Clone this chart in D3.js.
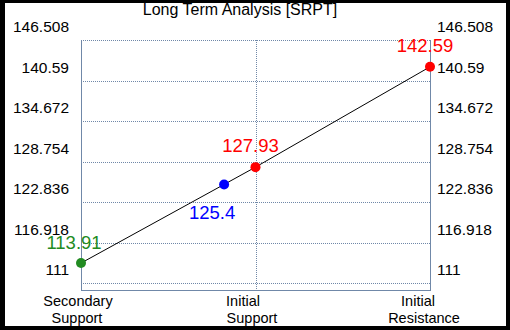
<!DOCTYPE html>
<html><head><meta charset="utf-8">
<script src="https://cdn.jsdelivr.net/npm/d3@7"></script>
<style>body{margin:0;background:#fff}svg{display:block;font-family:"Liberation Sans",Arial,sans-serif}</style>
</head><body><svg id="c" width="510" height="330"></svg>
<script>
const title = "Long Term Analysis [SRPT]";
const categories = [["Secondary","Support"],["Initial","Support"],["Initial","Resistance"]];
const yTicks = [111, 116.918, 122.836, 128.754, 134.672, 140.59, 146.508];
const pointPos = [0, 0.82, 1, 2];
const pointValues = [113.91, 125.4, 127.93, 142.59];
const pointColors = ["#228b22", "#0000ff", "#ff0000", "#ff0000"];

const svg = d3.select("#c");
const axisColor = "#7088a8";
svg.append("rect").attr("width",510).attr("height",330).attr("fill","#000");
svg.append("rect").attr("x",5).attr("y",3).attr("width",501).attr("height",323).attr("fill","#fff");

const x = d3.scaleLinear().domain([0,2]).range([81,430]);
const y = d3.scaleLinear().domain([111,146.508]).range([283,40]);
const plotBottom = 290;

// horizontal gridlines
svg.append("g").selectAll("line").data(yTicks).join("line")
  .attr("x1",x(0)).attr("x2",x(2)).attr("y1",d=>Math.round(y(d))+0.5).attr("y2",d=>Math.round(y(d))+0.5)
  .attr("stroke",axisColor).attr("stroke-dasharray","1,1");
// vertical gridline
svg.append("line").attr("x1",Math.round(x(1))+0.5).attr("x2",Math.round(x(1))+0.5).attr("y1",40).attr("y2",plotBottom)
  .attr("stroke",axisColor).attr("stroke-dasharray","1,1");
// axes
svg.append("line").attr("x1",x(0)+0.5).attr("x2",x(0)+0.5).attr("y1",40).attr("y2",plotBottom+0.5).attr("stroke",axisColor);
svg.append("line").attr("x1",x(2)+0.5).attr("x2",x(2)+0.5).attr("y1",40).attr("y2",plotBottom+0.5).attr("stroke",axisColor);
svg.append("line").attr("x1",x(0)).attr("x2",x(2)+1).attr("y1",plotBottom+0.5).attr("y2",plotBottom+0.5).attr("stroke",axisColor);

// tick labels
svg.append("g").selectAll("text").data(yTicks).join("text")
  .attr("x",69).attr("y",d=>y(d)-8).attr("text-anchor","end").attr("font-size","15.5px").attr("fill","#000")
  .text(d=>d);
svg.append("g").selectAll("text").data(yTicks).join("text")
  .attr("x",437).attr("y",d=>y(d)-8).attr("text-anchor","start").attr("font-size","15.5px").attr("fill","#000")
  .text(d=>d);

// category labels (two lines each)
const catCenters = [[78,77],[243,252],[418,424]];
categories.forEach((c,i)=>{
  c.forEach((s,j)=>{
    svg.append("text").attr("x",catCenters[i][j]).attr("y",306+j*16.5)
      .attr("font-size","14.5px").attr("fill","#000").attr("text-anchor","middle").text(s);
  });
});

// title
svg.append("text").attr("x",240).attr("y",15).attr("text-anchor","middle").attr("font-size","16px").attr("fill","#000").text(title);

// line
const pts = pointPos.map((p,i)=>({x:p,v:pointValues[i],c:pointColors[i]}));
svg.append("path").datum(pts).attr("fill","none").attr("stroke","#000").attr("stroke-width",1)
  .attr("d",d3.line().x(d=>x(d.x)).y(d=>y(d.v)));
svg.append("g").selectAll("circle").data(pts).join("circle")
  .attr("cx",d=>x(d.x)).attr("cy",d=>y(d.v)).attr("r",5).attr("fill",d=>d.c);

// value labels
const labelOff = [[-7,-14],[-12,34.5],[-5,-15],[-5,-15]];
svg.append("g").selectAll("text").data(pts).join("text")
  .attr("x",(d,i)=>x(d.x)+labelOff[i][0]).attr("y",(d,i)=>y(d.v)+labelOff[i][1])
  .attr("text-anchor","middle").attr("font-size","18.5px").attr("fill",d=>d.c).text(d=>d.v);
</script></body></html>
